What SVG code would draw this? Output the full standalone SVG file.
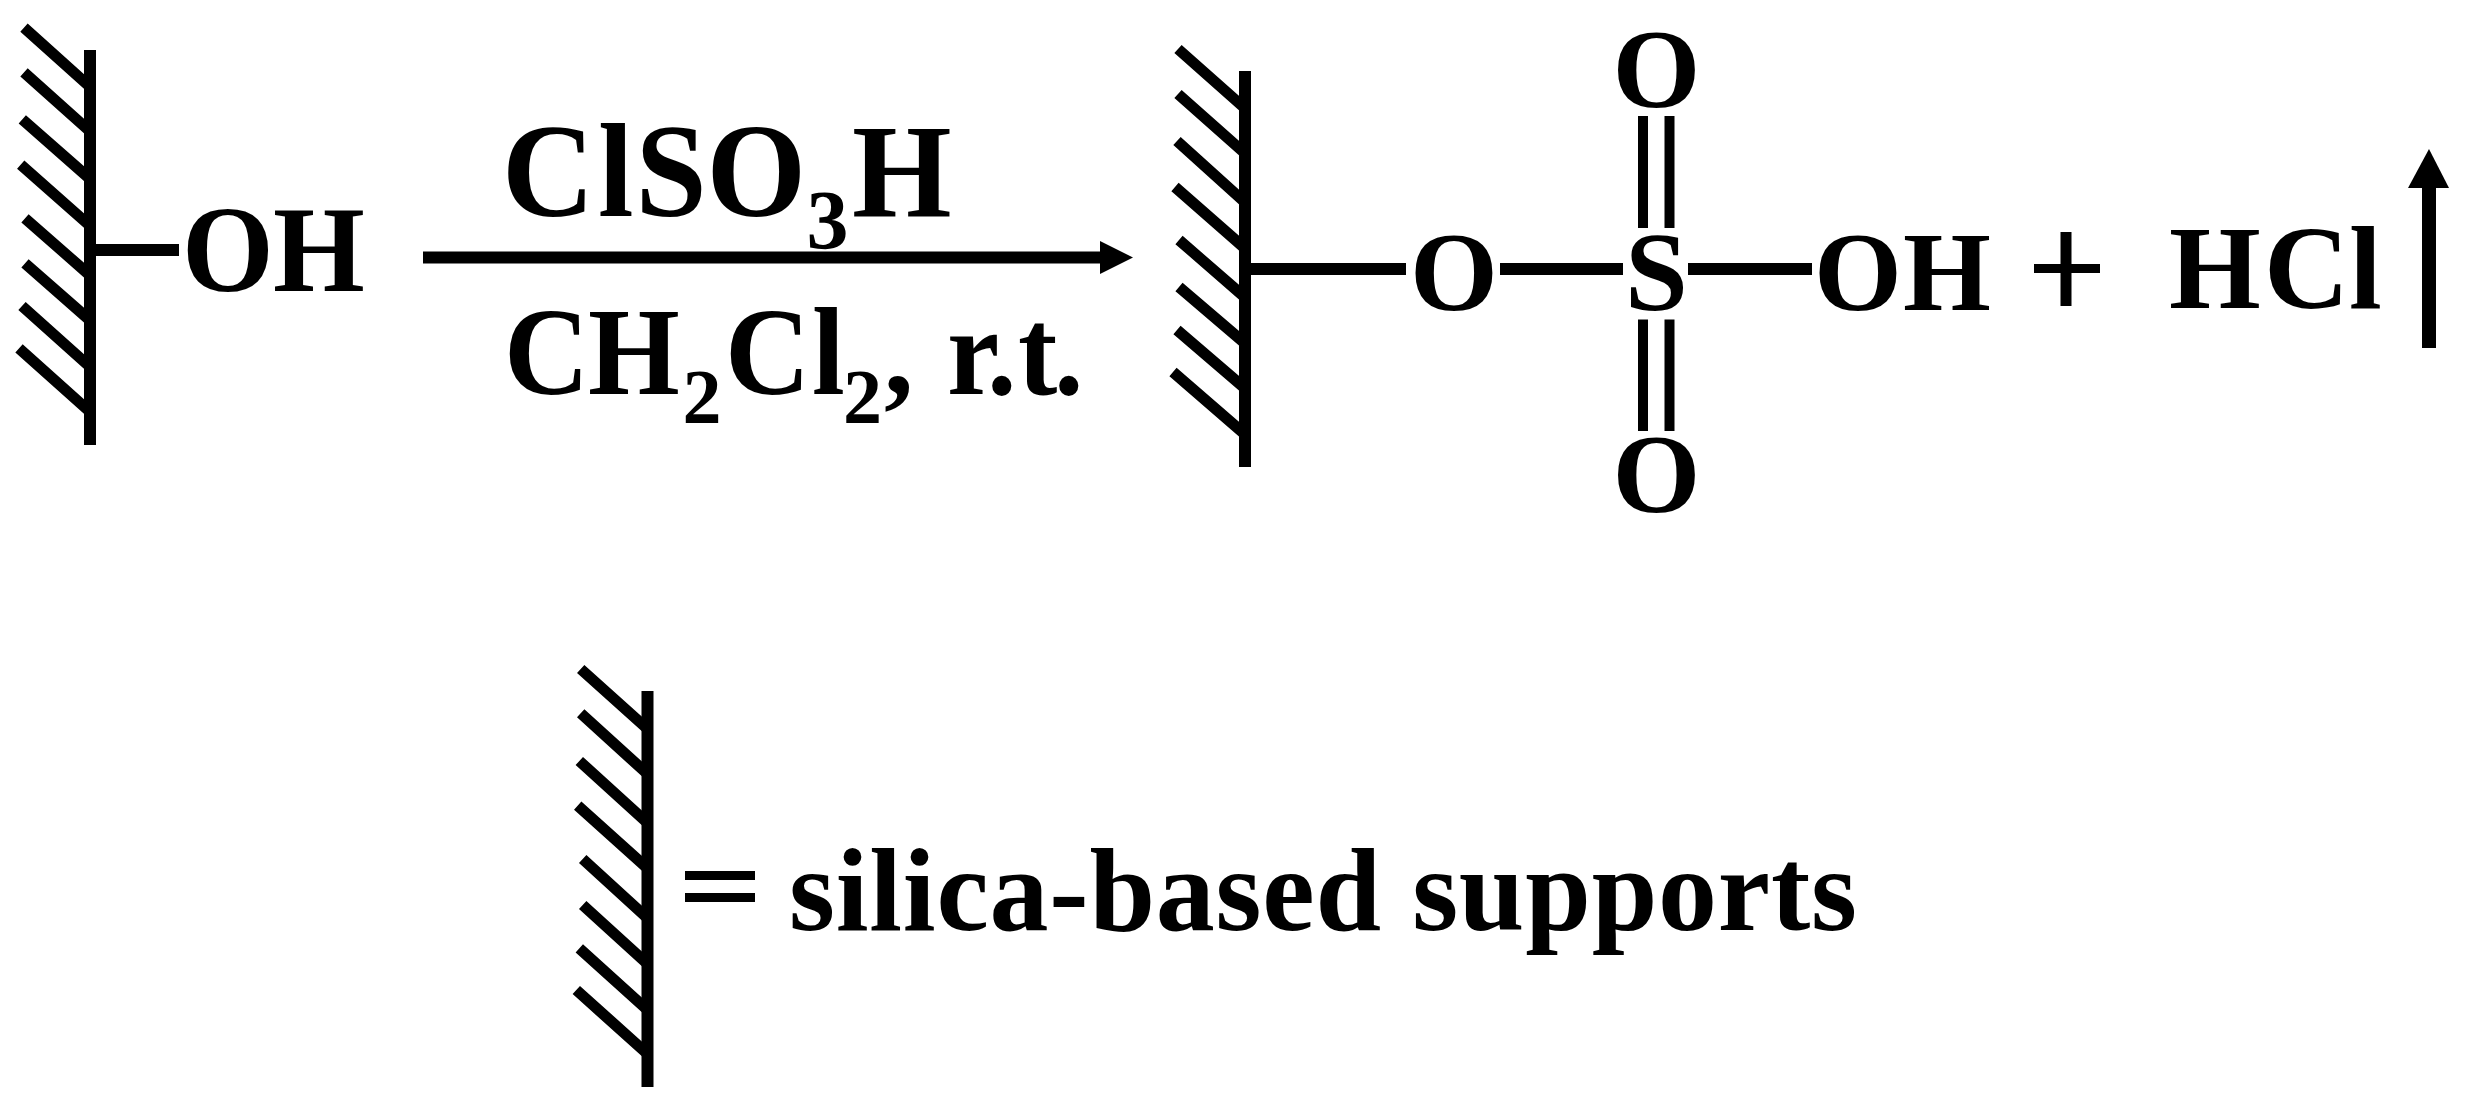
<svg xmlns="http://www.w3.org/2000/svg" width="2468" height="1110" viewBox="0 0 2468 1110">
<style>
text{font-family:"Liberation Serif","Times New Roman",serif;font-weight:bold;fill:#000}
.l{font-size:118px}.m{font-size:113px}.c{font-size:128px}.e{font-size:118px}.s{font-size:84px}.t{font-size:78px}
.h{stroke:#000;stroke-width:11;fill:none}
.b{stroke:#000;stroke-width:12;fill:none}
.n{stroke:#000;stroke-width:10;fill:none}
</style>
<rect width="2468" height="1110" fill="#fff"/>
<g id="support-1">
<path class="b" d="M90 50V445"/>
<path class="h" d="M24 27.700L89 86M24 72.300L89 130.500M22.300 119.300L89 178M20.700 164.700L89 225M25 218.300L89 274.500M25 263.300L89 319.500M22 306L89 366M19 348.300L89 411"/>
</g>
<g id="support-2">
<path class="b" d="M1245 71V467"/>
<path class="h" d="M1178 49L1244 107.500M1178 94L1244 152.500M1177 141L1244 201.500M1175 187L1244 247.500M1179 240L1244 296.500M1179 287L1244 342.500M1177 330L1244 387.500M1173 372L1244 433.500"/>
</g>
<g id="support-legend">
<path class="b" d="M647.500 691V1087"/>
<path class="h" d="M580.700 669L647 728.500M580.700 713.300L647 773.500M579.300 761L647 822.500M577.700 805.700L647 867.800M582.700 859L647 917.800M582.700 905L647 963.500M579.300 948.300L647 1009.500M576.300 990L647 1053.500"/>
</g>
<g id="connectors">
<path class="b" d="M96 250H179"/>
<path class="b" d="M423 257.500H1102"/>
<path d="M1100 241L1133 257.500L1100 274Z" fill="#000"/>
<path class="b" d="M1251 269H1406M1500 269H1623M1688 269H1812"/>
<path class="n" d="M1643 116V228M1669.500 116V228M1643 319.500V431M1669.500 319.500V431"/>
<path d="M2429 348V186" stroke="#000" stroke-width="14" fill="none"/>
<path d="M2429 149L2449 188H2408Z" fill="#000"/>
<path d="M685 875.500H755M685 897.500H755" stroke="#000" stroke-width="9" fill="none"/>
</g>
<g id="reactant-oh"><text class="l" x="182 273" y="0" transform="translate(0 291) scale(1 1.04)">OH</text></g>
<g id="reagent-top">
<text class="c" x="502 598 635.500 706.500" y="0" transform="translate(0 215.500) scale(1 1.04)">ClSO</text>
<text class="s" x="806.500" y="249">3</text>
<text class="c" x="852" y="0" transform="translate(0 215.500) scale(1 1.04)">H</text>
</g>
<g id="reagent-bottom">
<text class="e" x="504 588" y="0" transform="translate(0 393.500) scale(1 1.05)">CH</text>
<text class="t" x="682.500" y="423">2</text>
<text class="e" x="725 812" y="0" transform="translate(0 393.500) scale(1 1.05)">Cl</text>
<text class="t" x="843" y="423">2</text>
<text class="e" x="884" y="393">,</text>
<text class="e" x="947 987 1018 1054" y="0" transform="translate(0 393.500) scale(1 1.05)">r.t.</text>
</g>
<g id="o-link"><text class="m" x="1410" y="310">O</text></g>
<g id="s-center"><text class="m" x="1625" y="310">S</text></g>
<g id="o-top"><text class="m" x="1612.500" y="107">O</text></g>
<g id="o-bottom"><text class="m" x="1612.500" y="512">O</text></g>
<g id="oh-product"><text class="m" x="1814 1903" y="310">OH</text></g>
<g id="plus"><path d="M2034 268.500H2100" stroke="#000" stroke-width="9" fill="none"/><path d="M2066 232V306" stroke="#000" stroke-width="11" fill="none"/></g>
<g id="hcl"><text class="e" x="2169 2264 2349" y="308">HCl</text></g>
<g id="legend-text"><text x="789" y="930" font-size="118" textLength="1068" lengthAdjust="spacing">silica-based supports</text></g>
</svg>
